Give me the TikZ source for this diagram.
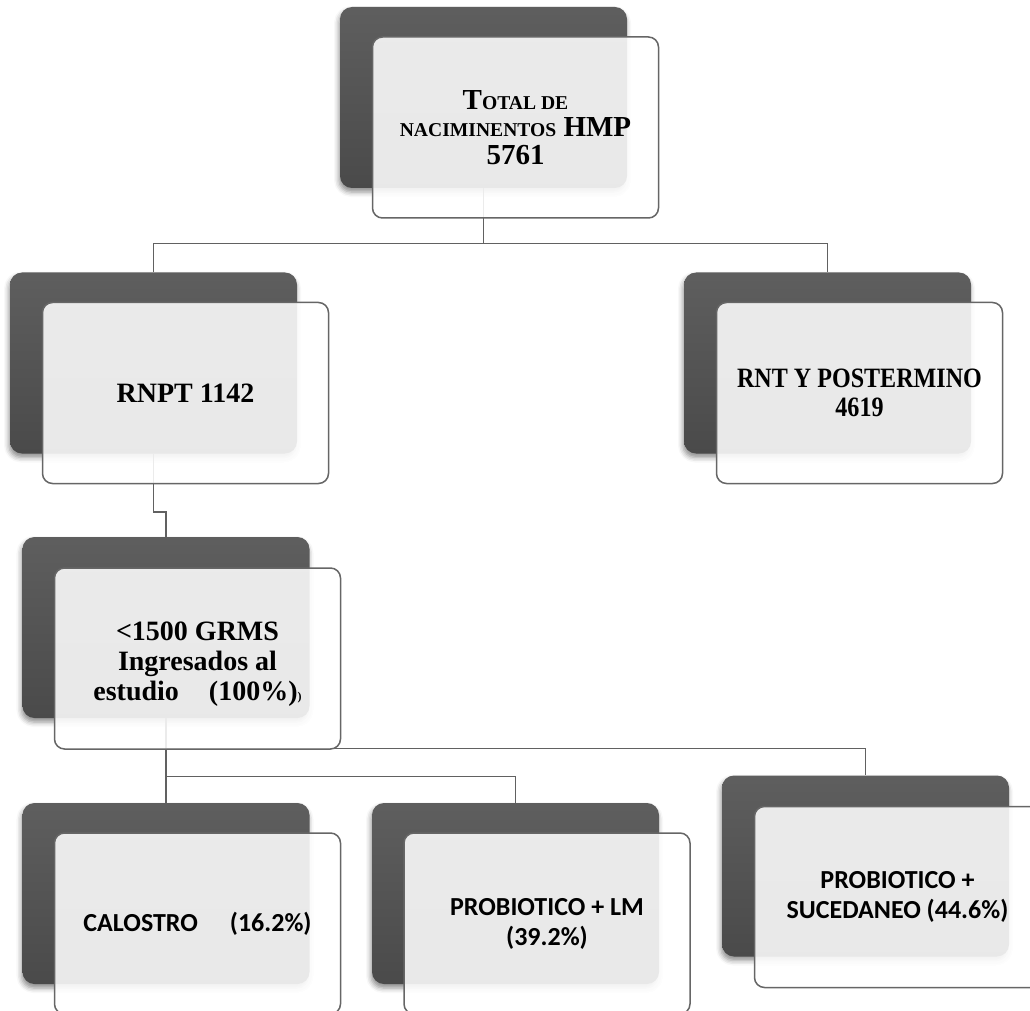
\documentclass[tikz,border=0pt]{standalone}
\usepackage{fontspec}
\setmainfont{Liberation Serif}
\newfontfamily\calibrifont{Carlito}
\newfontfamily\narrowserif[FakeStretch=0.86]{Liberation Serif}
\usetikzlibrary{positioning, calc, shadows.blur}
\newcommand{\smallcap}[1]{{\fontsize{9.8pt}{10pt}\selectfont #1}}
\tikzset{every node/.append style={align=center, inner sep=0pt}}

\begin{document}
\begin{tikzpicture}[
    x=0.5pt, y=-0.5pt,
    back/.style={rectangle, rounded corners=6pt, top color=black!63, bottom color=black!71,
        draw=none, minimum width=143.5pt, minimum height=90.5pt,
        blur shadow={shadow xshift=-0.5pt, shadow yshift=-2pt, shadow blur radius=2.5pt, shadow opacity=45}},
    card/.style={rectangle, rounded corners=5pt, draw=black!60, fill=white, fill opacity=0.88,
        text opacity=1, line width=0.75pt, minimum width=143pt, minimum height=90.5pt,
        font=\bfseries\fontsize{14pt}{14.5pt}\selectfont},
    cardsans/.style={card, font=\calibrifont\bfseries\fontsize{13pt}{15pt}\selectfont},
    link/.style={draw=black!62, line width=0.8pt}
]
\useasboundingbox (0,0) rectangle (1030,1011);
% back plates
\node[back] (totB) at (483.5,97.5) {};
\node[back] (rnptB) at (153.5,363) {};
\node[back] (rntB) at (827.5,363) {};
\node[back] (lowB) at (166,627.5) {};
\node[back] (calB) at (166,893.5) {};
\node[back] (lmB) at (515.5,893.5) {};
\node[back] (sucB) at (865.5,866) {};
% connectors
\draw[link] (totB.south) -- ++(0,55) -| (rnptB.north);
\draw[link] (totB.south) -- ++(0,55) -| (rntB.north);
\draw[link] (rnptB.south) -- ++(0,58) -| (lowB.north);
\draw[link] (lowB.south) -- (calB.north);
\draw[link] (lowB.south) -- ++(0,58) -| (lmB.north);
\draw[link] (lowB.south) -- ++(0,30) -| (sucB.north);
% front cards
\node[card, font=\bfseries\fontsize{14.5pt}{13.75pt}\selectfont] (tot) at ($(totB)+(32,30)$)
    {T\smallcap{OTAL DE}\\\smallcap{NACIMINENTOS} HMP\\5761};
\node[card] (rnpt) at ($(rnptB)+(32,30)$) {RNPT 1142};
\node[card, font=\narrowserif\bfseries\fontsize{14pt}{14.5pt}\selectfont] (rnt) at ($(rntB)+(32,30)$)
    {RNT Y POSTERMINO\\4619};
\node[card, font=\bfseries\fontsize{14pt}{15pt}\selectfont] (low) at ($(lowB)+(31.5,31)$)
    {\rule{0pt}{15pt}<1500 GRMS\\Ingresados al\\estudio\hskip15pt(100\%){\fontsize{6pt}{6pt}\selectfont)}};
\node[cardsans] (cal) at ($(calB)+(31.5,30)$) {CALOSTRO\hskip16pt(16.2\%)};
\node[cardsans] (lm) at ($(lmB)+(31.5,30)$) {PROBIOTICO + LM\\(39.2\%)};
\node[cardsans] (suc) at ($(sucB)+(32,31)$) {PROBIOTICO +\\SUCEDANEO (44.6\%)};
\end{tikzpicture}
\end{document}
